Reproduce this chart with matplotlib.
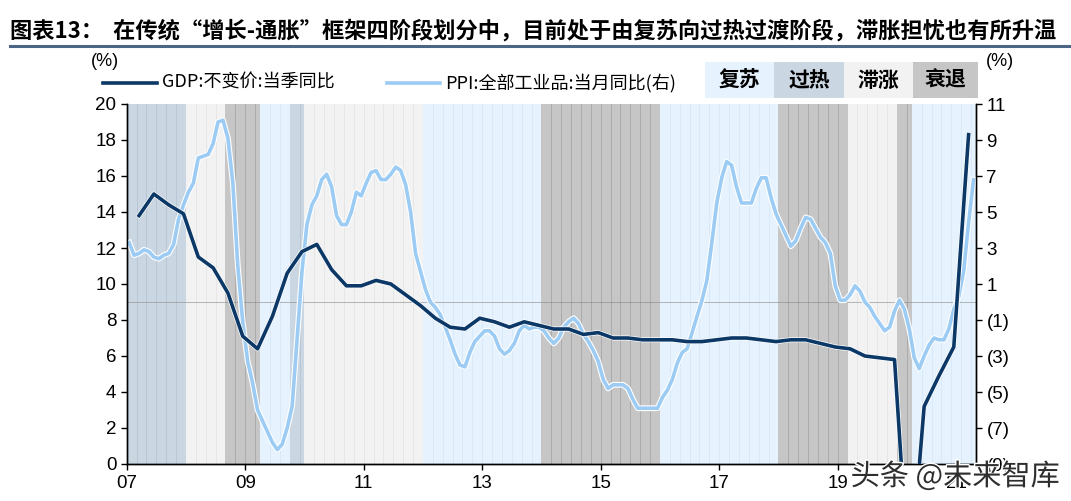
import numpy as np
import matplotlib
matplotlib.use("Agg")
import matplotlib.pyplot as plt
import matplotlib.patheffects as pe
from matplotlib.patches import Rectangle

plt.rcParams['font.family'] = ['Liberation Sans Narrow', 'Liberation Sans', 'Noto Sans CJK SC', 'DejaVu Sans']

# GDP: constant price, quarterly yoy (%), 2007Q1 .. 2021Q1
gdp = [13.8, 15.0, 14.4, 13.9,
       11.5, 10.9, 9.5, 7.1,
       6.4, 8.2, 10.6, 11.8,
       12.2, 10.8, 9.9, 9.9,
       10.2, 10.0, 9.4, 8.8,
       8.1, 7.6, 7.5, 8.1,
       7.9, 7.6, 7.9, 7.7,
       7.5, 7.5, 7.2, 7.3,
       7.0, 7.0, 6.9, 6.9,
       6.9, 6.8, 6.8, 6.9,
       7.0, 7.0, 6.9, 6.8,
       6.9, 6.9, 6.7, 6.5,
       6.4, 6.0, 5.9, 5.8,
       -6.8, 3.2, 4.9, 6.5,
       18.3]

# PPI: all industrial products, monthly yoy (%), 2007-01 .. 2021-04
ppi = [3.3, 2.6, 2.7, 2.9, 2.8, 2.5, 2.4, 2.6, 2.7, 3.2, 4.6, 5.4,
       6.1, 6.6, 8.0, 8.1, 8.2, 8.8, 10.0, 10.1, 9.1, 6.6, 2.0, -1.1,
       -3.3, -4.5, -6.0, -6.6, -7.2, -7.8, -8.2, -7.9, -7.0, -5.8, -2.1, 1.7,
       4.3, 5.4, 5.9, 6.8, 7.1, 6.4, 4.8, 4.3, 4.3, 5.0, 6.1, 5.9,
       6.6, 7.2, 7.3, 6.8, 6.8, 7.1, 7.5, 7.3, 6.5, 5.0, 2.7, 1.7,
       0.7, 0.0, -0.3, -0.7, -1.4, -2.1, -2.9, -3.5, -3.6, -2.8, -2.2, -1.9,
       -1.6, -1.6, -1.9, -2.6, -2.9, -2.7, -2.3, -1.6, -1.3, -1.5, -1.4, -1.4,
       -1.6, -2.0, -2.3, -2.0, -1.4, -1.1, -0.9, -1.2, -1.8, -2.2, -2.7, -3.3,
       -4.3, -4.8, -4.6, -4.6, -4.6, -4.8, -5.4, -5.9, -5.9, -5.9, -5.9, -5.9,
       -5.3, -4.9, -4.3, -3.4, -2.8, -2.6, -1.7, -0.8, 0.1, 1.2, 3.3, 5.5,
       6.9, 7.8, 7.6, 6.4, 5.5, 5.5, 5.5, 6.3, 6.9, 6.9, 5.8, 4.9,
       4.3, 3.7, 3.1, 3.4, 4.1, 4.7, 4.6, 4.1, 3.6, 3.3, 2.7, 0.9,
       0.1, 0.1, 0.4, 0.9, 0.6, 0.0, -0.3, -0.8, -1.2, -1.6, -1.4, -0.5,
       0.1, -0.4, -1.5, -3.1, -3.7, -3.0, -2.4, -2.0, -2.1, -2.1, -1.5, -0.4,
       0.3, 1.7, 4.4, 6.8]

# cycle phases: (start month, end month, phase), month 0 = 2007-01
phase_names = ['复苏', '过热', '滞涨', '衰退']
phase_colors = ['#e6f2fd', '#cad6e2', '#f2f2f2', '#c6c6c6']
phase_edges = ['#d6e8f9', '#b6c4d2', '#e4e4e4', '#a6a6a6']
phases = [(0, 12, '过热'), (12, 20, '滞涨'), (20, 27, '衰退'), (27, 33, '复苏'),
          (33, 36, '过热'), (36, 60, '滞涨'), (60, 84, '复苏'), (84, 108, '衰退'),
          (108, 132, '复苏'), (132, 146, '衰退'), (146, 156, '滞涨'), (156, 159, '衰退'),
          (159, 172, '复苏')]

x_labels = ['07', '09', '11', '13', '15', '17', '19', '21']

gdp_color = '#0b3866'
ppi_color = '#9ccbf3'

fig = plt.figure(figsize=(10.71, 5.01), dpi=100)
ax = fig.add_axes([126.7 / 1071, 1 - 464 / 501, (976 - 126.7) / 1071, 360 / 501])
ax2 = ax.twinx()

# shading and PPI live on ax2 (drawn first), GDP on ax (drawn on top)
ax2.set_zorder(0)
ax.set_zorder(1)
ax.patch.set_visible(False)

for start, end, name in phases:
    k = phase_names.index(name)
    ax2.axvspan(start, end, color=phase_colors[k], lw=0, zorder=0)
    for m in range(start + 2, end, 2):
        ax2.axvline(m, color=phase_edges[k], lw=0.6, zorder=0.5)

ax2.axhline(0, color='#8a8a8a', lw=0.7, alpha=0.6, zorder=1)

gdp_x = np.arange(len(gdp)) * 3 + 2.5
ppi_x = np.arange(len(ppi)) + 0.5

ax2.plot(ppi_x, ppi, color=ppi_color, lw=2.6, zorder=3, solid_joinstyle='round',
         path_effects=[pe.Stroke(linewidth=4.2, foreground='white'), pe.Normal()])
ax.plot(gdp_x, gdp, color=gdp_color, lw=2.6, zorder=4, solid_joinstyle='round',
        path_effects=[pe.Stroke(linewidth=3.6, foreground='white'), pe.Normal()])

ax.set_xlim(0, 172)
ax.set_ylim(0, 20)
ax2.set_ylim(-9, 11)
ax.set_yticks(np.arange(0, 21, 2))
r_ticks = np.arange(-9, 12, 2)
ax2.set_yticks(r_ticks)
ax2.set_yticklabels([f'({-t})' if t < 0 else str(t) for t in r_ticks])
ax.set_xticks(np.arange(0, 172, 24))
ax.set_xticklabels(x_labels)

for a in (ax, ax2):
    a.spines['top'].set_visible(False)
    for s in a.spines.values():
        s.set_linewidth(1.0)
    a.tick_params(direction='out', length=4, width=1, labelsize=13.5, colors='black')
ax.tick_params(axis='x', pad=4)

fig.text(10 / 1071, 1 - 31 / 501, '图表13：  在传统“增长-通胀”框架四阶段划分中，目前处于由复苏向过热过渡阶段，滞胀担忧也有所升温',
         fontsize=16, fontweight='bold', family=['Noto Sans CJK SC'], va='center', ha='left')
fig.add_artist(plt.Line2D([10 / 1071, 1], [1 - 46 / 501] * 2, color='#4d6584', lw=2.2))

fig.text(105 / 1071, 1 - 62 / 501, '(%)', fontsize=13, ha='center', va='center')
fig.text(1000 / 1071, 1 - 62 / 501, '(%)', fontsize=13, ha='center', va='center')

# legend for lines
fig.add_artist(plt.Line2D([103 / 1071, 157 / 1071], [1 - 83 / 501] * 2, color=gdp_color, lw=2.6))
fig.text(162 / 1071, 1 - 83 / 501, 'GDP:不变价:当季同比', fontsize=13, va='center', ha='left',
         family=['Liberation Sans Narrow', 'Noto Sans CJK SC'])
fig.add_artist(plt.Line2D([387 / 1071, 440 / 1071], [1 - 83 / 501] * 2, color=ppi_color, lw=2.6))
fig.text(445 / 1071, 1 - 83 / 501, 'PPI:全部工业品:当月同比(右)', fontsize=13, va='center', ha='left',
         family=['Liberation Sans Narrow', 'Noto Sans CJK SC'])

# phase legend boxes
box_edges = [705, 774, 844, 913, 978]
for k, name in enumerate(phase_names):
    x0 = box_edges[k] / 1071
    w = (box_edges[k + 1] - box_edges[k]) / 1071
    fig.add_artist(Rectangle((x0, 1 - 98 / 501), w, 36 / 501, transform=fig.transFigure,
                             facecolor=phase_colors[k], edgecolor='none'))
    fig.text(x0 + w / 2, 1 - 80 / 501, name, fontsize=15, fontweight='bold',
             family=['Noto Sans CJK SC'], ha='center', va='center')

fig.text(955 / 1071, 1 - 477 / 501, '头条 @未来智库', fontsize=21, ha='center', va='center',
         color='#2e2e2e', family=['Noto Sans CJK SC'],
         path_effects=[pe.Stroke(linewidth=2.0, foreground='white'), pe.Normal()])

fig.savefig('out.png', dpi=100)
